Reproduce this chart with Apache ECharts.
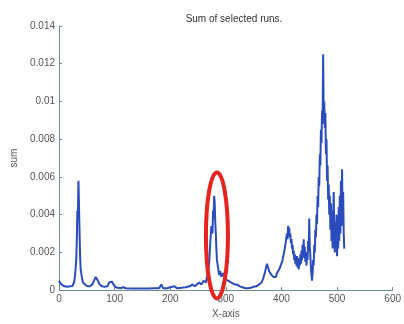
<!DOCTYPE html>
<html>
<head>
<meta charset="utf-8">
<script src="https://cdn.jsdelivr.net/npm/echarts@6/dist/echarts.min.js"></script>
<style>
  html, body { margin: 0; padding: 0; background: #fff; }
  #chart { width: 404px; height: 324px; }
</style>
</head>
<body>
<div id="chart"></div>
<script>
// x positions of the trace
const runX = [
  0, 2, 4, 6, 10, 15, 20, 24, 27, 29, 31, 32, 33, 34, 35, 36, 37, 38, 39, 41, 43, 46, 50, 55,
  60, 63, 66, 68, 70, 73, 77, 82, 87, 90, 93, 95, 98, 102, 106, 110, 113, 116, 120,
  130, 140, 150, 160, 170, 180, 184, 187, 195, 200, 203, 208, 212, 220, 228, 235,
  240, 244, 248, 252, 256, 260, 264, 267, 270, 272, 274, 276, 277, 278, 279, 280,
  281, 282, 283, 284, 286, 288, 290, 292, 295, 298, 301, 304, 307, 310, 313, 316,
  320, 325, 330, 335, 340, 345, 350, 355, 360, 364, 367, 370, 372, 374, 376, 378,
  380, 382, 384, 386, 388, 390, 392, 394, 396, 398, 400, 402, 404, 406, 408,
  410, 411, 412, 413, 414, 415, 416, 417, 418, 419, 420, 421, 422, 423, 424, 425,
  426, 427, 428, 429, 430, 431, 432, 433, 434, 435, 436, 437, 438, 439, 440, 441,
  442, 443, 444, 445, 446, 447, 448, 449, 450, 451, 452, 453, 454, 455, 456, 457,
  458, 459, 460, 461, 462, 463, 464, 465, 466, 467, 468, 469, 470, 471, 472, 473,
  474, 475, 476, 477, 478, 479, 480, 481, 482, 483, 484, 485, 486, 487, 488, 489,
  490, 491, 492, 493, 494, 495, 496, 497, 498, 499, 500, 501, 502, 503, 504, 505,
  506, 507, 508, 509, 510, 511, 512, 513
];
// summed values at those positions
const runSum = [
  0.0005, 0.0004, 0.0003, 0.00022, 0.0002, 0.00018, 0.0002, 0.00022, 0.0004, 0.0008, 0.0016, 0.0026, 0.0042, 0.0040, 0.0058, 0.0044, 0.0030, 0.0018, 0.0011, 0.0007, 0.0004, 0.0003, 0.00022, 0.0002,
  0.0003, 0.0005, 0.0007, 0.00072, 0.0005, 0.0003, 0.0002, 0.00018, 0.0002, 0.0004, 0.0005, 0.00045, 0.0003, 0.00015, 0.00012, 0.0001, 0.00018, 0.00015, 0.0001,
  0.00008, 0.00008, 0.00008, 0.00008, 0.0001, 0.0001, 0.0003, 0.0001, 0.0001, 0.00015, 0.0001, 0.0002, 0.0001, 0.00012, 0.00015, 0.0002,
  0.0003, 0.0002, 0.0003, 0.0004, 0.0003, 0.0005, 0.0004, 0.0008, 0.0014, 0.0025, 0.0034, 0.0030, 0.0042, 0.0038, 0.0050, 0.0046,
  0.0036, 0.0030, 0.0022, 0.0016, 0.0012, 0.0008, 0.0010, 0.0007, 0.0009, 0.0006, 0.0007, 0.0005, 0.0006, 0.0004, 0.0005, 0.0003,
  0.0003, 0.0002, 0.00015, 0.0001, 0.0001, 0.00012, 0.00018, 0.0002, 0.0003, 0.0004, 0.0006, 0.0009, 0.0010, 0.0014, 0.0012, 0.0010,
  0.0009, 0.0008, 0.0009, 0.0007, 0.0008, 0.0007, 0.0009, 0.0008, 0.0011, 0.0012, 0.0014, 0.0016, 0.0019, 0.0022, 0.0026,
  0.0030, 0.0027, 0.0034, 0.0031, 0.0033, 0.0028, 0.0030, 0.0025, 0.0027, 0.0022, 0.0024, 0.0019, 0.0021, 0.0016, 0.0019, 0.0014,
  0.0017, 0.0013, 0.0018, 0.0012, 0.0016, 0.0011, 0.0017, 0.0013, 0.0019, 0.0014, 0.0021, 0.0016, 0.0024, 0.0018, 0.0027, 0.0017,
  0.0023, 0.0015, 0.0020, 0.0013, 0.0019, 0.0016, 0.0026, 0.0021, 0.0038, 0.0023, 0.0018, 0.0012, 0.0008, 0.0005, 0.0009, 0.0016,
  0.0013, 0.0024, 0.0020, 0.0032, 0.0028, 0.0040, 0.0035, 0.0050, 0.0044, 0.0060, 0.0055, 0.0072, 0.0066, 0.0085, 0.0078, 0.0095,
  0.0088, 0.0125, 0.0092, 0.0100, 0.0086, 0.0094, 0.0072, 0.0080, 0.0058, 0.0066, 0.0048, 0.0056, 0.0040, 0.0050, 0.0032, 0.0046,
  0.0026, 0.0042, 0.0022, 0.0038, 0.0052, 0.0030, 0.0020, 0.0036, 0.0024, 0.0040, 0.0018, 0.0034, 0.0022, 0.0044, 0.0026, 0.0050,
  0.0030, 0.0058, 0.0034, 0.0064, 0.0040, 0.0052, 0.0030, 0.0022
];
const xTicks = [0, 100, 200, 300, 400, 500, 600];
const yTicks = [0, 0.002, 0.004, 0.006, 0.008, 0.01, 0.012, 0.014];

// annotation: red ellipse round the peak near x = 280
const markCenter = [284, 0.0029];

const chart = echarts.init(document.getElementById('chart'), null, { renderer: 'canvas' });

const axisColor = '#6f8b98';
const labelColor = '#555';
const font = 'Liberation Sans, Arial, sans-serif';

chart.setOption({
  animation: false,
  title: {
    text: 'Sum of selected runs.',
    left: 229,
    top: 9,
    textAlign: 'center',
    textStyle: { fontSize: 10, fontWeight: 'normal', color: '#333', fontFamily: font },
  },
  grid: { left: 59, right: 5, top: 26, bottom: 27, containLabel: false },
  xAxis: {
    type: 'value',
    min: xTicks[0],
    max: xTicks[xTicks.length - 1],
    interval: 100,
    name: 'X-axis',
    nameLocation: 'middle',
    nameGap: 16,
    nameTextStyle: { fontSize: 10, color: labelColor, fontFamily: font },
    axisLine: { show: true, lineStyle: { color: axisColor, width: 1 } },
    axisTick: { show: true, inside: true, length: 3, lineStyle: { color: axisColor } },
    axisLabel: { fontSize: 10, color: labelColor, fontFamily: font, margin: 4 },
    splitLine: { show: false },
  },
  yAxis: {
    type: 'value',
    min: yTicks[0],
    max: yTicks[yTicks.length - 1],
    interval: 0.002,
    name: 'sum',
    nameLocation: 'middle',
    nameGap: 36,
    nameTextStyle: { fontSize: 10, color: labelColor, fontFamily: font },
    axisLine: { show: true, lineStyle: { color: axisColor, width: 1 } },
    axisTick: { show: true, inside: true, length: 3, lineStyle: { color: axisColor } },
    axisLabel: { fontSize: 10, color: labelColor, fontFamily: font, margin: 4 },
    splitLine: { show: false },
  },
  series: [
    {
      type: 'line',
      data: runX.map((x, i) => [x, runSum[i]]),
      symbol: 'none',
      lineStyle: { color: '#2a4cbc', width: 2 },
      z: 2,
    },
  ],
});

// place the ellipse with the chart's own scale
const c = chart.convertToPixel({ gridIndex: 0 }, markCenter);
chart.setOption({
  graphic: [
    {
      type: 'ellipse',
      shape: { cx: c[0], cy: c[1], rx: 11, ry: 63 },
      style: { fill: 'none', stroke: '#e5231f', lineWidth: 4 },
      z: 10,
    },
  ],
});
</script>
</body>
</html>
